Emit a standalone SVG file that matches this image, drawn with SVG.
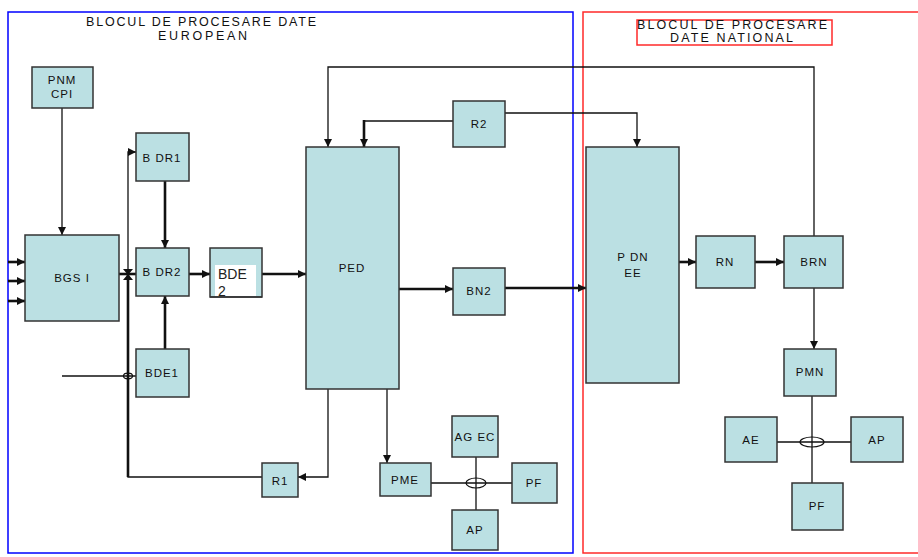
<svg xmlns="http://www.w3.org/2000/svg" width="918" height="557" viewBox="0 0 918 557">
<style>
.box{fill:#bbe0e3;stroke:#333;stroke-width:1.5}
.lbl{font-family:"Liberation Sans",Arial,sans-serif;font-size:11.5px;fill:#111;text-anchor:middle;letter-spacing:1px}
.ttl{font-family:"Liberation Sans",Arial,sans-serif;font-size:12.5px;fill:#111}
.c{fill:none;stroke:#111;stroke-width:1.3}
.t{fill:none;stroke:#111;stroke-width:2.6}
</style>
<defs>
<marker id="a" markerUnits="userSpaceOnUse" markerWidth="8" markerHeight="8" refX="8" refY="4" orient="auto"><path d="M0,0 L8,4 L0,8 z" fill="#111"/></marker>
</defs>
<rect width="918" height="557" fill="#fff"/>
<g id="frames">
<rect x="8" y="12" width="565" height="541" fill="none" stroke="#0000ff" stroke-width="1.5"/>
<rect x="583" y="12" width="345" height="541" fill="none" stroke="#ff2a2a" stroke-width="1.5"/>
<rect x="637" y="20" width="195" height="25" fill="none" stroke="#ff2a2a" stroke-width="1.5"/>
<text class="ttl" x="86" y="26" textLength="230" lengthAdjust="spacing">BLOCUL DE PROCESARE DATE</text>
<text class="ttl" x="158" y="40" textLength="89" lengthAdjust="spacing">EUROPEAN</text>
<text class="ttl" x="637" y="29" textLength="190" lengthAdjust="spacing">BLOCUL DE PROCESARE</text>
<text class="ttl" x="670" y="42" textLength="123" lengthAdjust="spacing">DATE NATIONAL</text>
</g>
<g id="connectors">
<path class="c" d="M62 108 V235" marker-end="url(#a)"/>
<path class="t" d="M8 262 H25" marker-end="url(#a)"/>
<path class="t" d="M8 281 H25" marker-end="url(#a)"/>
<path class="t" d="M8 301 H25" marker-end="url(#a)"/>
<path class="t" d="M119 274 H136"/>
<path d="M123 269 L133 269 L128 275 z M128 274 L123 280 L133 280 z" fill="#111"/>
<path class="t" d="M165 181 V248" marker-end="url(#a)"/>
<path class="t" d="M165 349 V296" marker-end="url(#a)"/>
<path class="t" d="M189 274 H210" marker-end="url(#a)"/>
<path class="t" d="M262 274 H306" marker-end="url(#a)"/>
<path class="c" d="M262 477 H128 V152 H136" marker-end="url(#a)"/>
<path class="t" d="M128 477 V274"/>
<path class="c" d="M62 376 H136"/>
<ellipse cx="128" cy="376" rx="4.5" ry="2.8" fill="none" stroke="#111" stroke-width="1.2"/>
<path class="c" d="M328 389 V477 H298" marker-end="url(#a)"/>
<path class="c" d="M387 389 V463" marker-end="url(#a)"/>
<path class="c" d="M814 236 V67 H328 V147" marker-end="url(#a)"/>
<path class="c" d="M453 121 H364"/>
<path class="t" d="M364 120 V147" marker-end="url(#a)"/>
<path class="c" d="M505 113 H637 V147" marker-end="url(#a)"/>
<path class="t" d="M399 289 H453" marker-end="url(#a)"/>
<path class="t" d="M505 288 H586" marker-end="url(#a)"/>
<path class="t" d="M679 262 H696" marker-end="url(#a)"/>
<path class="t" d="M755 262 H784" marker-end="url(#a)"/>
<path class="c" d="M814 288 V349" marker-end="url(#a)"/>
<path class="c" d="M812 396 V483 M777 442 H851"/>
<ellipse cx="812" cy="442" rx="12" ry="5" fill="none" stroke="#111" stroke-width="1.2"/>
<path class="c" d="M431 483 H512 M476 457 V510"/>
<ellipse cx="476" cy="483" rx="10" ry="5" fill="none" stroke="#111" stroke-width="1.2"/>
</g>
<g id="PNMCPI"><rect class="box" x="32" y="67" width="61" height="41"/><text class="lbl" x="62" y="84">PNM</text><text class="lbl" x="62" y="98">CPI</text></g>
<g id="BGSI"><rect class="box" x="25" y="235" width="94" height="86"/><text class="lbl" x="72" y="282">BGS I</text></g>
<g id="BDR1"><rect class="box" x="136" y="133" width="53" height="48"/><text class="lbl" x="162" y="162">B DR1</text></g>
<g id="BDR2"><rect class="box" x="136" y="248" width="53" height="48"/><text class="lbl" x="162" y="276">B DR2</text></g>
<g id="BDE1"><rect class="box" x="136" y="349" width="53" height="48"/><text class="lbl" x="162" y="377">BDE1</text></g>
<g id="BDE2"><rect class="box" x="210" y="248" width="52" height="49"/><rect x="215" y="265" width="41" height="31" fill="#fff"/><text x="218" y="279" font-family="Liberation Sans,Arial,sans-serif" font-size="14" fill="#222">BDE</text><text x="218" y="296" font-family="Liberation Sans,Arial,sans-serif" font-size="14" fill="#222">2</text><path d="M210 297 H262" stroke="#333" stroke-width="1.5"/></g>
<g id="PED"><rect class="box" x="306" y="147" width="93" height="242"/><text class="lbl" x="352" y="272">PED</text></g>
<g id="R2"><rect class="box" x="453" y="101" width="52" height="46"/><text class="lbl" x="479" y="128">R2</text></g>
<g id="BN2"><rect class="box" x="453" y="268" width="52" height="47"/><text class="lbl" x="479" y="295">BN2</text></g>
<g id="R1"><rect class="box" x="262" y="463" width="36" height="34"/><text class="lbl" x="280" y="485">R1</text></g>
<g id="PME"><rect class="box" x="380" y="463" width="51" height="33"/><text class="lbl" x="405" y="484">PME</text></g>
<g id="AGEC"><rect class="box" x="452" y="416" width="46" height="41"/><text class="lbl" x="475" y="441" letter-spacing="0.5">AG EC</text></g>
<g id="PF1"><rect class="box" x="512" y="463" width="45" height="40"/><text class="lbl" x="534" y="487">PF</text></g>
<g id="AP1"><rect class="box" x="452" y="510" width="46" height="40"/><text class="lbl" x="475" y="534">AP</text></g>
<g id="PDNEE"><rect class="box" x="586" y="147" width="93" height="236"/><text class="lbl" x="633" y="261">P DN</text><text class="lbl" x="633" y="277">EE</text></g>
<g id="RN"><rect class="box" x="696" y="236" width="59" height="52"/><text class="lbl" x="725" y="266">RN</text></g>
<g id="BRN"><rect class="box" x="784" y="236" width="59" height="52"/><text class="lbl" x="814" y="266">BRN</text></g>
<g id="PMN"><rect class="box" x="784" y="349" width="52" height="47"/><text class="lbl" x="810" y="376">PMN</text></g>
<g id="AE"><rect class="box" x="725" y="417" width="52" height="45"/><text class="lbl" x="751" y="444">AE</text></g>
<g id="AP2"><rect class="box" x="851" y="417" width="52" height="45"/><text class="lbl" x="877" y="444">AP</text></g>
<g id="PF2"><rect class="box" x="792" y="483" width="51" height="47"/><text class="lbl" x="817" y="510">PF</text></g>
</svg>
